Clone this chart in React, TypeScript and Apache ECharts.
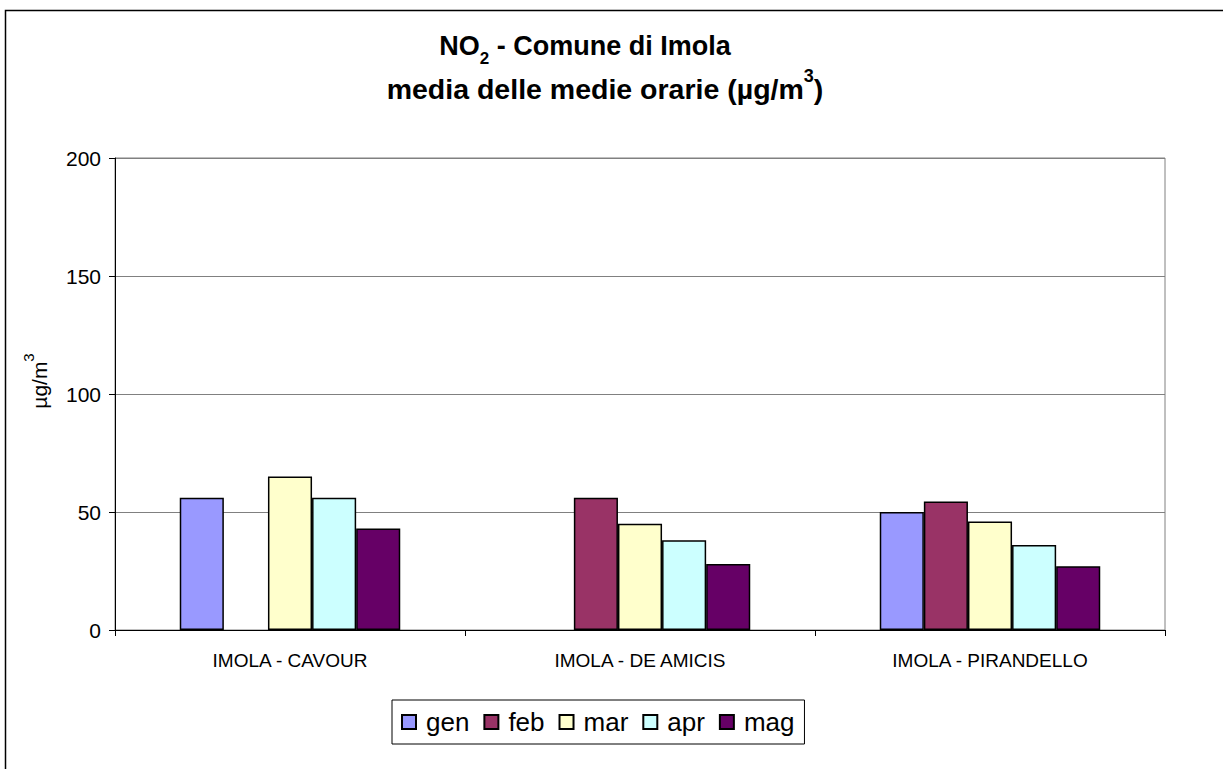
import React, { useEffect, useRef } from "react";
import * as echarts from "echarts";

const categories = ["IMOLA - CAVOUR", "IMOLA - DE AMICIS", "IMOLA - PIRANDELLO"];
const months = ["gen", "feb", "mar", "apr", "mag"];
const colors = ["#9999FF", "#993366", "#FFFFCC", "#CCFFFF", "#660066"];
const gen = [56, null, 50];
const feb = [null, 56, 54.5];
const mar = [65, 45, 46];
const apr = [56, 38, 36];
const mag = [43, 28, 27];
const yTicks = [0, 50, 100, 150, 200];

const seriesValues = [gen, feb, mar, apr, mag];

export default function App() {
  const ref = useRef<HTMLDivElement>(null);
  useEffect(() => {
    document.body.style.margin = "0";
    const chart = echarts.init(ref.current!, null, { renderer: "svg" });
    const font = "Liberation Sans, Arial, sans-serif";
    chart.setOption({
      animation: false,
      backgroundColor: "#fff",
      textStyle: { fontFamily: font },
      title: [
        {
          text: "{a|NO}{s|2}{a| - Comune di Imola}",
          left: 580,
          top: 25,
          textAlign: "center",
          textStyle: {
            rich: {
              a: { fontSize: 27, fontWeight: "bold", color: "#000", fontFamily: font, lineHeight: 32 },
              s: { fontSize: 17, fontWeight: "bold", color: "#000", fontFamily: font, lineHeight: 32, verticalAlign: "bottom", padding: [0, 0, -5, 0] },
            },
          },
        },
        {
          text: "{a|media delle medie orarie (µg/m}{p|3}{a|)}",
          left: 600,
          top: 67,
          textAlign: "center",
          textStyle: {
            rich: {
              a: { fontSize: 28.5, fontWeight: "bold", color: "#000", fontFamily: font, lineHeight: 34 },
              p: { fontSize: 18, fontWeight: "bold", color: "#000", fontFamily: font, lineHeight: 34, verticalAlign: "top", padding: [-5, 0, 0, 0] },
            },
          },
        },
      ],
      graphic: [
        {
          type: "rect",
          shape: { x: 5.5, y: 10.5, width: 1400, height: 1000 },
          style: { fill: "none", stroke: "#000", lineWidth: 1.5 },
          silent: true,
        },
      ],
      legend: {
        data: months,
        left: 392,
        top: 700,
        orient: "horizontal",
        itemWidth: 14,
        itemHeight: 14,
        itemGap: 14,
        borderColor: "#000",
        borderWidth: 1,
        padding: [9, 10, 9, 9],
        icon: "rect",
        textStyle: { fontSize: 26, color: "#000", fontFamily: font, padding: [0, 0, 0, 5] },
      },
      grid: {
        left: 115,
        right: 58,
        top: 158,
        bottom: 139,
        show: true,
        borderColor: "#808080",
        borderWidth: 1,
        backgroundColor: "transparent",
      },
      xAxis: {
        type: "category",
        data: categories,
        axisLine: { lineStyle: { color: "#000", width: 1 } },
        axisTick: { show: true, alignWithLabel: false, length: 6, lineStyle: { color: "#000" } },
        axisLabel: { fontSize: 19, color: "#000", margin: 21, fontFamily: font },
      },
      yAxis: {
        type: "value",
        min: 0,
        max: 200,
        interval: 50,
        name: "{a|µg/m}{p|3}",
        nameLocation: "middle",
        nameGap: 64,
        nameRotate: 90,
        nameTextStyle: {
          padding: [0, 0, 0, 26],
          rich: {
            a: { fontSize: 21, color: "#000", fontFamily: font, lineHeight: 24 },
            p: { fontSize: 15, color: "#000", fontFamily: font, lineHeight: 24, verticalAlign: "top", padding: [-6, 0, 0, 0] },
          },
        },
        axisLine: { show: true, lineStyle: { color: "#000", width: 1 } },
        axisTick: { show: true, length: 6, lineStyle: { color: "#000" } },
        axisLabel: {
          fontSize: 21,
          color: "#000",
          margin: 14,
          fontFamily: font,
          formatter: (v: number) => (yTicks.includes(v) ? String(v) : ""),
        },
        splitLine: { show: true, lineStyle: { color: "#808080", width: 1 } },
      },
      series: months.map((m, i) => ({
        name: m,
        type: "bar",
        data: seriesValues[i],
        barGap: "0%",
        barCategoryGap: "37%",
        itemStyle: { color: colors[i], borderColor: "#000", borderWidth: 1.5 },
      })),
    });
    return () => chart.dispose();
  }, []);
  return <div ref={ref} style={{ width: 1223, height: 769 }} />;
}
